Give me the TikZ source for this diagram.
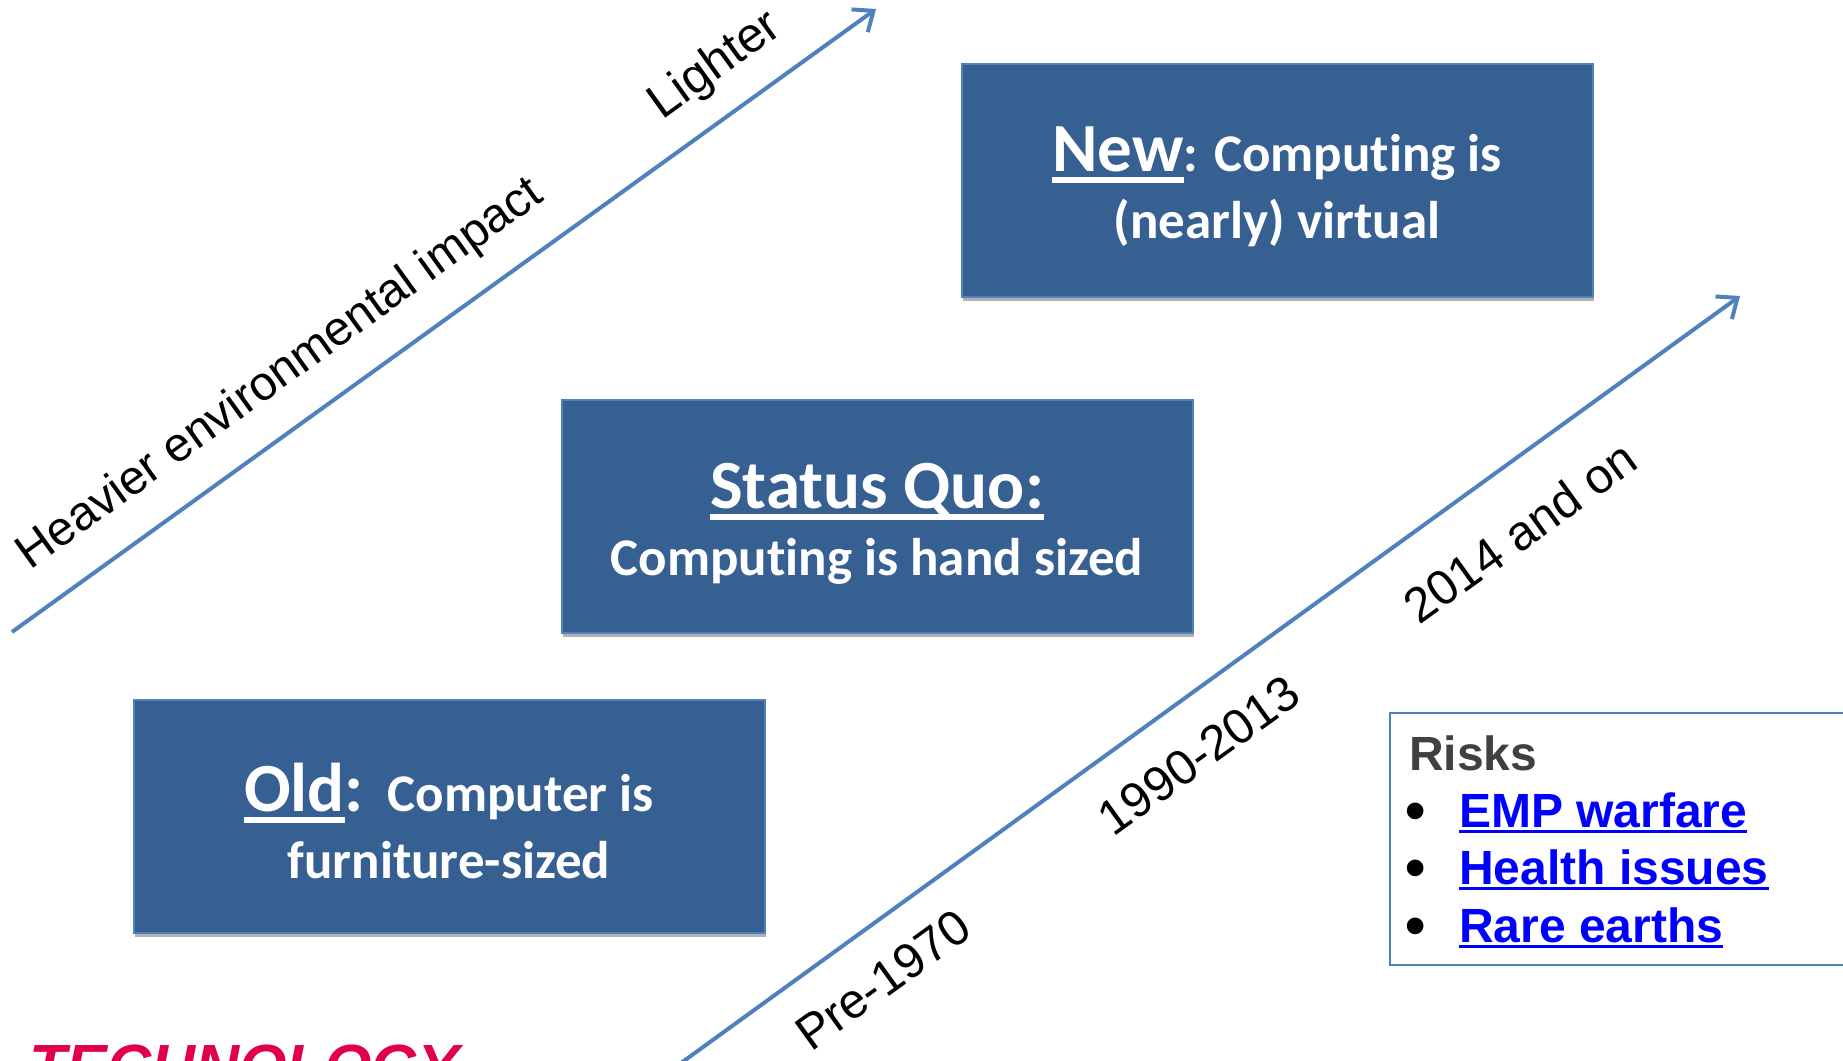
\documentclass[tikz,border=0pt]{standalone}
\usepackage{fontspec}
\setmainfont{Carlito}[Ligatures=NoCommon]
\newfontfamily\arialf{Liberation Sans}
\usetikzlibrary{arrows.meta,shadows}
\definecolor{boxblue}{RGB}{55,96,146}
\definecolor{boxline}{RGB}{79,129,189}
\definecolor{arrowblue}{RGB}{79,129,189}
\definecolor{linkblue}{RGB}{0,0,255}
\definecolor{risksgray}{RGB}{64,64,64}
\definecolor{techred}{RGB}{224,0,77}
\newcommand\myul[1]{\setbox0\hbox{#1}\rlap{\rule[-0.16em]{\wd0}{0.085em}}\box0}
\newcommand\linkul[1]{\setbox0\hbox{#1}\rlap{\rule[-0.13em]{\wd0}{0.065em}}\box0}
\newcommand\bigsz{\fontsize{69}{67}\selectfont}
\begin{document}
\begin{tikzpicture}[x=1pt,y=-1pt,
  box/.style={draw=boxline, line width=2pt, fill=boxblue, minimum width=631pt,
    minimum height=233pt, inner sep=0pt,
    drop shadow={shadow xshift=1pt, shadow yshift=-4pt, fill=black, opacity=0.3}},
  boxtext/.style={text=white, inner sep=0pt, align=center,
    font=\fontsize{53}{67}\selectfont\bfseries},
  axis/.style={draw=arrowblue, line width=4pt, -{Straight Barb[length=17pt,width=28pt]}},
  lab/.style={font=\arialf\fontsize{49}{49}\selectfont, rotate=35.8, inner sep=0pt},
  item/.style={anchor=base west, inner sep=0pt, font=\arialf\bfseries\fontsize{48}{58}\selectfont},
  bul/.style={anchor=base, inner sep=0pt, font=\arialf\bfseries\fontsize{58}{58}\selectfont}]
\useasboundingbox (0,0) rectangle (1843,1060);
\clip (0,0) rectangle (1843,1060);
\fill[white] (0,0) rectangle (1843,1060);

% arrows
\coordinate (a1s) at (12,632);
\coordinate (a1e) at (876,9);
\coordinate (a2s) at (681,1063);
\coordinate (a2e) at (1740,296);
\draw[axis] (a1s) -- (a1e);
\draw[axis] (a2s) -- (a2e);

% arrow labels
\node[lab, font=\arialf\fontsize{48}{48}\selectfont] (heavy) at (281,375) {Heavier environmental impact};
\node[lab] (light) at (716,66) {Lighter};
\node[lab] (pre) at (883,980) {Pre-1970};
\node[lab] (mid) at (1199,755) {1990-2013};
\node[lab] (late) at (1520,532) {2014 and on};

% boxes
\node[box] (newb) at (1277,180) {};
\node[box] (sqb) at (877,516) {};
\node[box] (oldb) at (449,816) {};
\node[boxtext] (newt) at ([yshift=-7pt]newb.center) {{\bigsz\myul{New}}: Computing is\\(nearly) virtual};
\node[boxtext] (sqt) at ([yshift=-8pt]sqb.center) {{\bigsz\myul{Status Quo:}}\\Computing is hand sized};
\node[boxtext] (oldt) at ([yshift=-5pt]oldb.center) {{\bigsz\myul{Old}:}\hspace{0.45em}Computer is\\furniture-sized};

% risks box
\node[draw=boxline, line width=2pt, anchor=north west, minimum width=500pt,
  minimum height=252pt, inner sep=0pt] (riskbox) at (1389,712) {};
\node[item, text=risksgray] (risks) at (1409,770) {Risks};
\node[bul] (b1) at (1416,830) {\textbullet};
\node[bul] (b2) at (1416,887) {\textbullet};
\node[bul] (b3) at (1416,945) {\textbullet};
\node[item, text=linkblue] (r1) at (1459,827) {\linkul{EMP warfare}};
\node[item, text=linkblue] (r2) at (1459,884) {\linkul{Health issues}};
\node[item, text=linkblue] (r3) at (1459,942) {\linkul{Rare earths}};

% cut-off logo text
\node[anchor=base west, inner sep=0pt, text=techred,
  font=\arialf\bfseries\itshape\fontsize{61}{61}\selectfont] (tech) at (29,1087) {TECHNOLOGY};
\end{tikzpicture}
\end{document}
